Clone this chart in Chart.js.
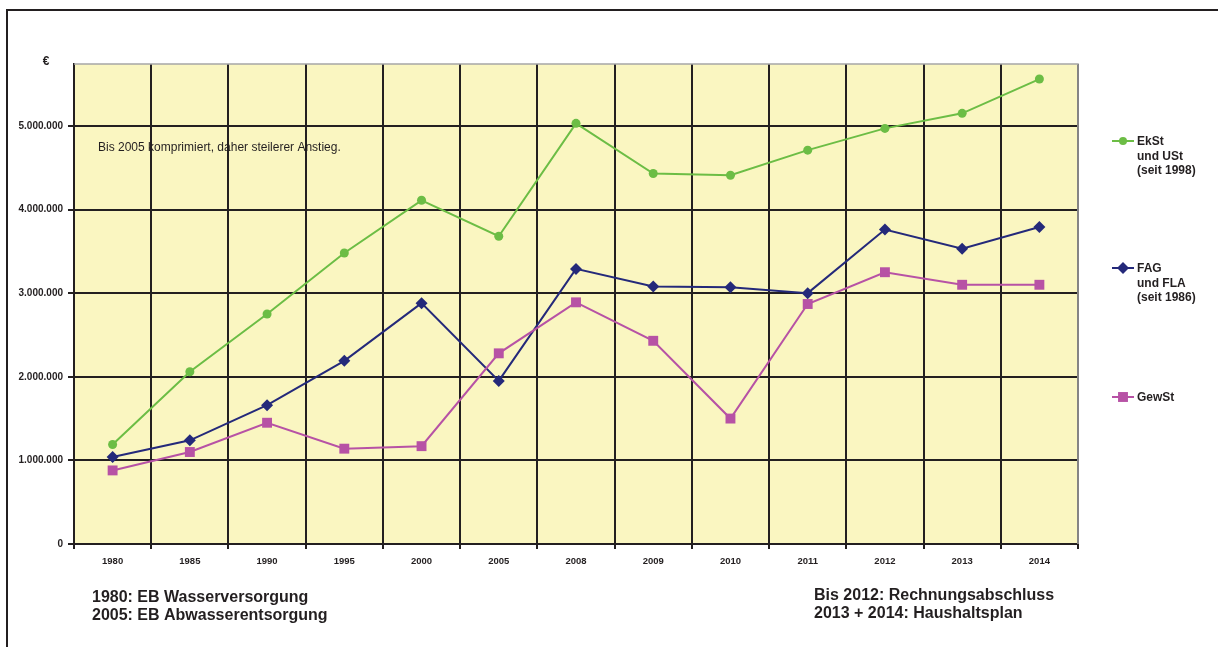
<!DOCTYPE html>
<html>
<head>
<meta charset="utf-8">
<script src="https://cdn.jsdelivr.net/npm/chart.js@4.4.0/dist/chart.umd.min.js"></script>
<style>
  html, body { margin: 0; padding: 0; background: #ffffff; }
  #wrap { position: absolute; left: 0; top: 0; width: 1218px; height: 647px; }
</style>
</head>
<body>
<div id="wrap"><canvas id="taxChart" width="1218" height="647"></canvas></div>
<script>
// Steuereinnahmen 1980 - 2014
const years = ['1980', '1985', '1990', '1995', '2000', '2005', '2008', '2009', '2010', '2011', '2012', '2013', '2014'];
const ekstUst = [1190000, 2060000, 2750000, 3480000, 4110000, 3680000, 5030000, 4430000, 4410000, 4710000, 4970000, 5150000, 5560000];
const fagFla  = [1040000, 1240000, 1660000, 2190000, 2880000, 1950000, 3290000, 3080000, 3070000, 3000000, 3760000, 3530000, 3790000];
const gewSt   = [880000, 1100000, 1450000, 1140000, 1170000, 2280000, 2890000, 2430000, 1500000, 2870000, 3250000, 3100000, 3100000];
const yTicks  = [0, 1000000, 2000000, 3000000, 4000000, 5000000];
const yMax = 5740000;

const green = '#6cbd45';
const navy = '#24297a';
const magenta = '#b752a5';
const dark = '#231f20';
const FONT = '"Liberation Sans", Arial, sans-serif';

const legendEntries = [
  { lines: ['EkSt', 'und USt', '(seit 1998)'], color: green, style: 'circle', y: 141 },
  { lines: ['FAG', 'und FLA', '(seit 1986)'], color: navy, style: 'rectRot', y: 268 },
  { lines: ['GewSt'], color: magenta, style: 'rect', y: 397 }
];

function fmt(v) {
  return v.toLocaleString('de-DE');
}

// frame, plot background, notes and legend
const decor = {
  id: 'decor',
  beforeDraw(chart) {
    const ctx = chart.ctx;
    const a = chart.chartArea;
    ctx.save();
    ctx.fillStyle = '#faf6c1';
    ctx.fillRect(a.left, a.top, a.right - a.left, a.bottom - a.top);
    ctx.strokeStyle = dark;
    ctx.lineWidth = 2;
    ctx.beginPath();
    ctx.moveTo(7, 647);
    ctx.lineTo(7, 10);
    ctx.lineTo(1218, 10);
    ctx.stroke();
    ctx.restore();
  },
  afterDatasetsDraw(chart) {
    const ctx = chart.ctx;
    const a = chart.chartArea;
    ctx.save();
    // plot border top / right
    ctx.strokeStyle = '#a7a7a7';
    ctx.lineWidth = 1.5;
    ctx.beginPath();
    ctx.moveTo(a.left, a.top);
    ctx.lineTo(a.right, a.top);
    ctx.lineTo(a.right, a.bottom);
    ctx.stroke();

    ctx.fillStyle = dark;
    ctx.textBaseline = 'middle';
    ctx.font = 'bold 12px ' + FONT;
    ctx.textAlign = 'center';
    ctx.fillText('€', 46, 62);

    ctx.textAlign = 'left';
    ctx.font = '12px ' + FONT;
    ctx.fillText('Bis 2005 komprimiert, daher steilerer Anstieg.', 98, 148);

    ctx.font = 'bold 16px ' + FONT;
    ctx.fillText('1980: EB Wasserversorgung', 92, 598);
    ctx.fillText('2005: EB Abwasserentsorgung', 92, 616);
    ctx.fillText('Bis 2012: Rechnungsabschluss', 814, 596);
    ctx.fillText('2013 + 2014: Haushaltsplan', 814, 614);

    // legend
    ctx.font = 'bold 12px ' + FONT;
    legendEntries.forEach(function(e) {
      ctx.strokeStyle = e.color;
      ctx.lineWidth = 2;
      ctx.beginPath();
      ctx.moveTo(1112, e.y);
      ctx.lineTo(1134, e.y);
      ctx.stroke();
      ctx.fillStyle = e.color;
      const r = e.style === 'rect' ? 7 : (e.style === 'rectRot' ? 6 : 4);
      Chart.helpers.drawPoint(ctx, { pointStyle: e.style, radius: r, borderWidth: 0 }, 1123, e.y);
      ctx.fillStyle = dark;
      e.lines.forEach(function(t, i) {
        ctx.fillText(t, 1137, e.y + 1 + i * 14.5);
      });
    });
    ctx.restore();
  }
};

function series(label, data, color, style, radius, width) {
  return {
    label: label,
    data: data,
    borderColor: color,
    backgroundColor: color,
    pointBackgroundColor: color,
    pointBorderColor: color,
    pointStyle: style,
    pointRadius: radius,
    pointBorderWidth: 0,
    borderWidth: width,
    tension: 0,
    fill: false
  };
}

new Chart(document.getElementById('taxChart').getContext('2d'), {
  type: 'line',
  data: {
    labels: years,
    datasets: [
      series('GewSt', gewSt, magenta, 'rect', 7, 2),
      series('FAG und FLA (seit 1986)', fagFla, navy, 'rectRot', 6, 2),
      series('EkSt und USt (seit 1998)', ekstUst, green, 'circle', 4.5, 2)
    ]
  },
  options: {
    responsive: false,
    animation: false,
    events: [],
    layout: { padding: { left: 0, top: 64, right: 140, bottom: 0 } },
    plugins: {
      legend: { display: false },
      tooltip: { enabled: false }
    },
    scales: {
      x: {
        offset: true,
        afterFit: function(s) { s.height = 103; },
        grid: {
          offset: true,
          color: dark,
          lineWidth: 2,
          tickLength: 5,
          tickColor: dark
        },
        border: { color: dark, width: 2 },
        ticks: {
          color: dark,
          padding: 7,
          maxRotation: 0,
          font: { family: FONT, size: 9.5, weight: 'bold' }
        }
      },
      y: {
        min: 0,
        max: yMax,
        afterFit: function(s) { s.width = 74; },
        afterBuildTicks: function(s) {
          s.ticks = yTicks.map(function(v) { return { value: v }; });
        },
        grid: {
          color: dark,
          lineWidth: 2,
          tickLength: 6,
          tickColor: dark
        },
        border: { color: dark, width: 2 },
        ticks: {
          color: dark,
          padding: 5,
          font: { family: FONT, size: 10, weight: 'bold' },
          callback: function(v) { return fmt(v); }
        }
      }
    }
  },
  plugins: [decor]
});
</script>
</body>
</html>
